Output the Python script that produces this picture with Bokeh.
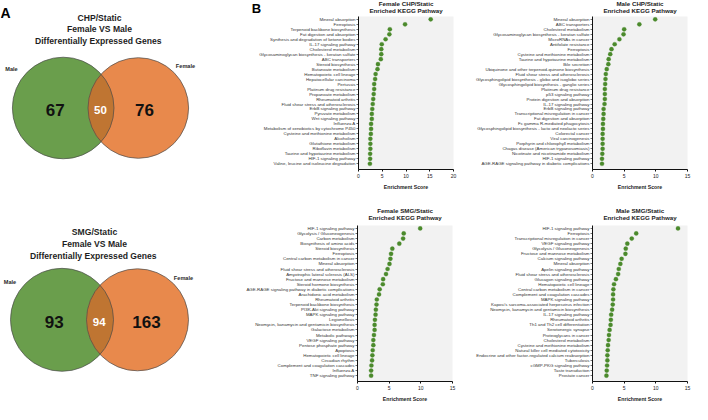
import numpy as np
from bokeh.plotting import figure
from bokeh.layouts import row, column
from bokeh.models import Range1d, FixedTicker
from bokeh.core.properties import value
from bokeh.embed import file_html
from bokeh.resources import INLINE

FONT = "Liberation Sans"

# ---------------- data ----------------
chp_counts = [67, 50, 76]     # male only, shared, female only
smg_counts = [93, 94, 163]

fchp_paths = ["Mineral absorption", "Ferroptosis", "Terpenoid backbone biosynthesis",
              "Fat digestion and absorption", "Synthesis and degradation of ketone bodies",
              "IL-17 signaling pathway", "Cholesterol metabolism",
              "Glycosaminoglycan biosynthesis - keratan sulfate", "ABC transporters",
              "Steroid biosynthesis", "Butanoate metabolism", "Hematopoietic cell lineage",
              "Hepatocellular carcinoma", "Pertussis", "Platinum drug resistance",
              "Propanoate metabolism", "Rheumatoid arthritis",
              "Fluid shear stress and atherosclerosis", "ErbB signaling pathway",
              "Pyruvate metabolism", "Wnt signaling pathway", "Influenza A",
              "Metabolism of xenobiotics by cytochrome P450",
              "Cysteine and methionine metabolism", "Alcoholism", "Glutathione metabolism",
              "Riboflavin metabolism", "Taurine and hypotaurine metabolism",
              "HIF-1 signaling pathway", "Valine, leucine and isoleucine degradation"]
fchp_scores = [15.2, 9.8, 6.6, 6.5, 5.7, 4.9, 4.8, 4.8, 4.7, 4.1, 4.0, 3.6, 3.5, 3.3, 3.3,
               3.2, 3.1, 3.0, 2.9, 2.8, 2.8, 2.65, 2.65, 2.6, 2.5, 2.5, 2.5, 2.45, 2.45, 2.4]

mchp_paths = ["Mineral absorption", "ABC transporters", "Cholesterol metabolism",
              "Glycosaminoglycan biosynthesis - keratan sulfate", "MicroRNAs in cancer",
              "Antifolate resistance", "Ferroptosis", "Cysteine and methionine metabolism",
              "Taurine and hypotaurine metabolism", "Bile secretion",
              "Ubiquinone and other terpenoid-quinone biosynthesis",
              "Fluid shear stress and atherosclerosis",
              "Glycosphingolipid biosynthesis - globo and isoglobo series",
              "Glycosphingolipid biosynthesis - ganglio series", "Platinum drug resistance",
              "p53 signaling pathway", "Protein digestion and absorption",
              "IL-17 signaling pathway", "ErbB signaling pathway",
              "Transcriptional misregulation in cancer", "Fat digestion and absorption",
              "Fc gamma R-mediated phagocytosis",
              "Glycosphingolipid biosynthesis - lacto and neolacto series",
              "Colorectal cancer", "Viral carcinogenesis", "Porphyrin and chlorophyll metabolism",
              "Chagas disease (American trypanosomiasis)",
              "Nicotinate and nicotinamide metabolism", "HIF-1 signaling pathway",
              "AGE-RAGE signaling pathway in diabetic complications"]
mchp_scores = [9.9, 7.4, 5.0, 4.9, 4.25, 3.5, 3.0, 2.8, 2.55, 2.5, 2.25, 2.1, 2.05, 2.0, 1.95,
               1.95, 1.95, 1.9, 1.75, 1.75, 1.7, 1.65, 1.65, 1.6, 1.6, 1.6, 1.6, 1.55, 1.5, 1.5]

fsmg_paths = ["HIF-1 signaling pathway", "Glycolysis / Gluconeogenesis", "Carbon metabolism",
              "Biosynthesis of amino acids", "Steroid biosynthesis", "Ferroptosis",
              "Central carbon metabolism in cancer", "Mineral absorption",
              "Fluid shear stress and atherosclerosis", "Amyotrophic lateral sclerosis (ALS)",
              "Fructose and mannose metabolism", "Steroid hormone biosynthesis",
              "AGE-RAGE signaling pathway in diabetic complications",
              "Arachidonic acid metabolism", "Rheumatoid arthritis",
              "Terpenoid backbone biosynthesis", "PI3K-Akt signaling pathway",
              "MAPK signaling pathway", "Legionellosis",
              "Neomycin, kanamycin and gentamicin biosynthesis", "Galactose metabolism",
              "Metabolic pathways", "VEGF signaling pathway", "Pentose phosphate pathway",
              "Apoptosis", "Hematopoietic cell lineage", "Circadian rhythm",
              "Complement and coagulation cascades", "Influenza A", "TNF signaling pathway"]
fsmg_scores = [9.9, 7.3, 7.2, 6.6, 5.5, 5.3, 5.2, 5.05, 4.75, 4.5, 4.05, 4.0, 3.5, 3.4, 3.05,
               3.0, 2.9, 2.85, 2.75, 2.7, 2.7, 2.6, 2.5, 2.5, 2.4, 2.35, 2.3, 2.2, 2.15, 2.15]

msmg_paths = ["HIF-1 signaling pathway", "Ferroptosis", "Transcriptional misregulation in cancer",
              "VEGF signaling pathway", "Glycolysis / Gluconeogenesis",
              "Fructose and mannose metabolism", "Calcium signaling pathway",
              "Mineral absorption", "Apelin signaling pathway",
              "Fluid shear stress and atherosclerosis", "Glucagon signaling pathway",
              "Hematopoietic cell lineage", "Central carbon metabolism in cancer",
              "Complement and coagulation cascades", "MAPK signaling pathway",
              "Kaposi's sarcoma-associated herpesvirus infection",
              "Neomycin, kanamycin and gentamicin biosynthesis", "IL-17 signaling pathway",
              "Rheumatoid arthritis", "Th1 and Th2 cell differentiation", "Serotonergic synapse",
              "Proteoglycans in cancer", "Cholesterol metabolism",
              "Cysteine and methionine metabolism", "Natural killer cell mediated cytotoxicity",
              "Endocrine and other factor-regulated calcium reabsorption", "Tuberculosis",
              "cGMP-PKG signaling pathway", "Taste transduction", "Prostate cancer"]
msmg_scores = [13.5, 6.9, 6.2, 5.5, 5.25, 5.2, 4.6, 4.4, 4.15, 4.05, 3.7, 3.4, 3.3, 3.25, 3.25,
               3.2, 3.1, 2.95, 2.9, 2.85, 2.7, 2.6, 2.55, 2.45, 2.4, 2.35, 2.35, 2.3, 2.25, 2.2]

panel_titles_top = ["Female CHP/Static", "Male CHP/Static"]
panel_titles_bot = ["Female SMG/Static", "Male SMG/Static"]
subtitle = "Enriched KEGG Pathway"

GREEN = "#6a9e4c"
ORANGE = "#e8894c"
OVER = "#bf7532"
DOT = "#4b8a2c"

TOP_H = 192          # page rows 8..200
BOT_H = 212          # page rows 200..412
HDR_TOP = 16         # header strip above the top dot plots
HDR_BOT = 33         # header strip above the bottom dot plots
FIG_W = 230
FRAME_W = 95


def lens(x1, x2, y, r1, r2, n=60):
    d = x2 - x1
    a = (d * d + r1 * r1 - r2 * r2) / (2 * d)
    h = np.sqrt(r1 * r1 - a * a)
    ta = np.arctan2(h, a)
    tb = np.arctan2(h, d - a)
    t1 = np.linspace(-ta, ta, n)
    t2 = np.linspace(np.pi - tb, np.pi + tb, n)
    xs = np.concatenate([x1 + r1 * np.cos(t1), x2 + r2 * np.cos(t2)])
    ys = np.concatenate([y + r1 * np.sin(t1), y + r2 * np.sin(t2)])
    return xs, ys


def blank(width, height, x0, y0):
    p = figure(width=width, height=height, x_range=Range1d(x0, x0 + width),
               y_range=Range1d(y0 + height, y0), output_backend="svg",
               toolbar_location=None, min_border=0, x_axis_type=None, y_axis_type=None)
    p.grid.visible = False
    p.outline_line_color = None
    return p


def venn(y0, h, lines, title_x, title_ys, counts, cx1, cx2, cy, r1, r2,
         male_xy, female_xy, num_xs, letter=None):
    p = blank(232, h, 8, y0)
    p.circle(x=[cx1], y=[cy], radius=r1, fill_color=GREEN, line_color=None)
    p.circle(x=[cx2], y=[cy], radius=r2, fill_color=ORANGE, line_color=None)
    lx, ly = lens(cx1, cx2, cy, r1, r2)
    p.patch(lx, ly, fill_color=OVER, line_color=None)
    p.circle(x=[cx1, cx2], y=[cy, cy], radius=[r1, r2], fill_color=None,
             line_color="#4a4a4a", line_width=0.7)
    p.text(x=[title_x] * 3, y=title_ys, text=lines, text_font=value(FONT),
           text_font_style="bold", text_font_size="8.6px", text_align="center",
           text_baseline="middle", text_color="#1e1e1e")
    p.text(x=[male_xy[0], female_xy[0]], y=[male_xy[1], female_xy[1]], text=["Male", "Female"],
           text_font=value(FONT), text_font_style="bold", text_font_size="5.6px",
           text_align="center", text_baseline="middle", text_color="#2a2a2a")
    p.text(x=[num_xs[0], num_xs[2]], y=[cy + 2, cy + 2], text=[str(counts[0]), str(counts[2])],
           text_font=value(FONT), text_font_style="bold", text_font_size="17px",
           text_align="center", text_baseline="middle", text_color="#111111")
    p.text(x=[num_xs[1]], y=[cy + 2], text=[str(counts[1])],
           text_font=value(FONT), text_font_style="bold", text_font_size="11.5px",
           text_align="center", text_baseline="middle", text_color="#ffffff")
    if letter:
        p.text(x=[8], y=[20], text=[letter], text_font=value(FONT), text_font_style="bold",
               text_font_size="14px", text_align="left", text_baseline="middle",
               text_color="#000000")
    return p


def header(height, y0, titles, centers, line_ys, letter=None, letter_xy=None):
    p = blank(460, height, 240, y0)
    for t, cx in zip(titles, centers):
        p.text(x=[cx, cx], y=line_ys, text=[t, subtitle], text_font=value(FONT),
               text_font_style="bold", text_font_size="6.2px", text_align="center",
               text_baseline="middle", text_color="#222222")
    if letter:
        p.text(x=[letter_xy[0]], y=[letter_xy[1]], text=[letter], text_font=value(FONT),
               text_font_style="bold", text_font_size="13px", text_align="center",
               text_baseline="middle", text_color="#000000")
    return p


def dots(paths, scores, xmax, h, left, bottom):
    n = len(paths)
    ys = list(range(n))
    right = FIG_W - left - FRAME_W
    p = figure(width=FIG_W, height=h, title=None, x_range=Range1d(0, xmax),
               y_range=Range1d(n - 1 + 1.15, -0.57),
               output_backend="svg", toolbar_location=None,
               min_border_left=left, min_border_right=right,
               min_border_top=0, min_border_bottom=bottom)
    p.background_fill_color = "#f2f2f2"
    p.border_fill_color = "white"
    p.outline_line_color = None
    p.grid.visible = False
    p.scatter(x=scores, y=ys, size=4.2, fill_color=DOT, line_color=DOT, line_width=0.3)

    p.yaxis.ticker = FixedTicker(ticks=ys)
    p.yaxis.major_label_overrides = {i: s for i, s in enumerate(paths)}
    p.yaxis.major_label_text_font = FONT
    p.yaxis.major_label_text_font_size = "4.4px"
    p.yaxis.major_label_text_color = "#333333"
    p.yaxis.major_label_standoff = 1
    p.yaxis.major_tick_out = 2
    p.yaxis.major_tick_in = 0
    p.yaxis.minor_tick_line_color = None
    p.yaxis.axis_line_color = "#111111"
    p.yaxis.major_tick_line_color = "#111111"
    p.yaxis.major_tick_line_width = 0.6

    p.xaxis.ticker = FixedTicker(ticks=list(range(0, xmax + 1, 5)))
    p.xaxis.axis_label = "Enrichment Score"
    p.xaxis.axis_label_text_font = FONT
    p.xaxis.axis_label_text_font_size = "5.2px"
    p.xaxis.axis_label_text_font_style = "bold"
    p.xaxis.axis_label_text_color = "#222222"
    p.xaxis.axis_label_standoff = 3
    p.xaxis.major_label_text_font = FONT
    p.xaxis.major_label_text_font_size = "5px"
    p.xaxis.major_label_text_color = "#222222"
    p.xaxis.major_label_standoff = 2
    p.xaxis.major_tick_out = 2
    p.xaxis.major_tick_in = 0
    p.xaxis.minor_tick_line_color = None
    p.xaxis.axis_line_color = "#111111"
    p.xaxis.major_tick_line_color = "#111111"
    return p


vA = venn(8, TOP_H, ["CHP/Static", "Female VS Male", "Differentially Expressed  Genes"],
          107, [25, 36.5, 48], chp_counts, 70.7, 145.8, 115.5, 50.8, 50.3,
          (19, 76), (193, 73), (62.7, 108, 152), letter="A")
vB = venn(8 + TOP_H, BOT_H, ["SMG/Static", "Female VS Male", "Differentially Expressed  Genes"],
          102, [239.5, 251.5, 263.5], smg_counts, 69.5, 145.0, 327.3, 51.5, 51.0,
          (17.5, 289), (191, 285), (61.7, 106.7, 154))

hdr_top = header(HDR_TOP, 8, panel_titles_top, [413.5, 647.5], [10.5, 17.5],
                 letter="B", letter_xy=(264, 15.5))
hdr_bot = header(HDR_BOT, 8 + TOP_H, panel_titles_bot, [412.5, 647.5], [218, 225])

fchp = dots(fchp_paths, fchp_scores, 20, TOP_H - HDR_TOP, 126, 17)
mchp = dots(mchp_paths, mchp_scores, 15, TOP_H - HDR_TOP, 130, 17)
fsmg = dots(fsmg_paths, fsmg_scores, 15, BOT_H - HDR_BOT, 125, 18)
msmg = dots(msmg_paths, msmg_scores, 15, BOT_H - HDR_BOT, 130, 18)

layout = row(column(vA, vB),
             column(hdr_top, row(fchp, mchp), hdr_bot, row(fsmg, msmg)))

open("out.html", "w").write(file_html(layout, INLINE))
